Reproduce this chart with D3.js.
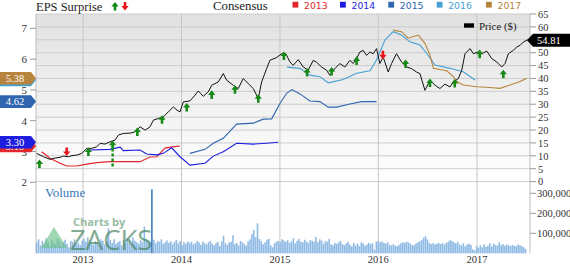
<!DOCTYPE html>
<html>
<head>
<meta charset="utf-8">
<script src="https://d3js.org/d3.v7.min.js"></script>
<style>
  body { margin: 0; background: #fff; }
  svg { display: block; }
</style>
</head>
<body>
<svg id="chart"></svg>
<script>
// price, [decimal year, $]
let priceSeries = [
  [2012.53, 10.95], [2012.60, 9.63], [2012.665, 8.63], [2012.716, 9.13], [2012.766, 9.40],
  [2012.80, 9.90], [2012.851, 9.63], [2012.888, 10.1], [2012.936, 10.29], [2012.987, 10.95],
  [2013.038, 12.88], [2013.088, 12.88], [2013.139, 13.5], [2013.173, 14.82], [2013.223, 14.55],
  [2013.274, 15.43], [2013.325, 16.09], [2013.358, 18.03], [2013.409, 18.68], [2013.477, 18.8],
  [2013.528, 19.3], [2013.561, 20.6], [2013.579, 21.24], [2013.63, 19.96], [2013.68, 21.24],
  [2013.714, 23.83], [2013.765, 24.49], [2013.815, 25.1], [2013.866, 27.04], [2013.917, 28.97],
  [2013.954, 27.7], [2013.985, 27.04], [2014.018, 30.9], [2014.086, 31.3], [2014.137, 33.5],
  [2014.17, 35.16], [2014.221, 33.1], [2014.272, 34.78], [2014.307, 37.37], [2014.374, 38.65],
  [2014.424, 41.9], [2014.459, 39.3], [2014.526, 37.37], [2014.577, 36.09], [2014.627, 39.96],
  [2014.678, 38.03], [2014.729, 36.09], [2014.78, 32.2], [2014.814, 38.65], [2014.865, 43.83],
  [2014.898, 47.04], [2014.966, 48.1], [2015.017, 49.6], [2015.06, 49.55], [2015.102, 46.4],
  [2015.135, 45.1], [2015.186, 47.3], [2015.237, 44.45], [2015.287, 43.2], [2015.338, 47.0],
  [2015.372, 46.3], [2015.423, 44.45], [2015.474, 43.2], [2015.508, 41.2], [2015.558, 43.8],
  [2015.609, 45.8], [2015.66, 44.45], [2015.711, 47.0], [2015.745, 45.8], [2015.779, 47.7],
  [2015.812, 50.25], [2015.846, 50.9], [2015.88, 48.97], [2015.914, 50.25], [2015.947, 49.6],
  [2015.982, 51.57], [2016.015, 45.8], [2016.049, 48.3], [2016.1, 42.5], [2016.134, 45.8],
  [2016.184, 49.6], [2016.235, 46.4], [2016.286, 44.45], [2016.337, 43.8], [2016.387, 42.5],
  [2016.421, 41.9], [2016.472, 35.4], [2016.523, 39.3], [2016.574, 37.37], [2016.624, 36.1],
  [2016.675, 37.8], [2016.726, 36.7], [2016.76, 38.65], [2016.81, 39.96], [2016.845, 43.2],
  [2016.878, 49.6], [2016.929, 51.57], [2016.963, 49.6], [2017.01, 50.25], [2017.048, 49.6],
  [2017.099, 50.6], [2017.15, 47.7], [2017.2, 46.4], [2017.251, 44.45], [2017.284, 45.8],
  [2017.318, 49.6], [2017.369, 50.9], [2017.403, 52.2], [2017.437, 52.84], [2017.47, 54.1],
  [2017.513, 55.0], [2017.528, 54.81]
];

// consensus EPS by fiscal year, [decimal year, EPS]
let cons2013 = [
  [2012.58, 2.99], [2012.665, 2.78], [2012.766, 2.62], [2012.834, 2.53], [2012.936, 2.53],
  [2013.038, 2.59], [2013.139, 2.64], [2013.274, 2.67], [2013.477, 2.67], [2013.579, 2.67],
  [2013.68, 2.82], [2013.751, 2.83], [2013.832, 3.11], [2013.904, 3.15], [2013.985, 3.18]
];
let cons2014 = [
  [2013.071, 3.05], [2013.274, 3.07], [2013.376, 3.14], [2013.409, 3.03], [2013.579, 3.05],
  [2013.647, 2.92], [2013.748, 2.89], [2013.815, 2.94], [2013.9, 3.12], [2013.985, 2.83],
  [2014.086, 2.56], [2014.239, 2.62], [2014.323, 2.85], [2014.424, 2.99], [2014.56, 3.27],
  [2014.73, 3.24], [2014.865, 3.27], [2014.983, 3.30]
];
let cons2015 = [
  [2014.086, 2.94], [2014.239, 3.07], [2014.323, 3.27], [2014.424, 3.43], [2014.56, 3.89],
  [2014.73, 3.92], [2014.83, 4.05], [2014.916, 4.06], [2015.0, 4.56], [2015.068, 4.89],
  [2015.122, 5.01], [2015.203, 4.87], [2015.305, 4.64], [2015.406, 4.62], [2015.49, 4.44],
  [2015.576, 4.44], [2015.711, 4.54], [2015.83, 4.62], [2015.982, 4.62]
];
let cons2016 = [
  [2015.071, 5.74], [2015.203, 5.70], [2015.305, 5.48], [2015.406, 5.43], [2015.49, 5.23],
  [2015.643, 5.34], [2015.779, 5.54], [2015.914, 5.62], [2015.982, 5.97], [2016.066, 6.62],
  [2016.15, 6.89], [2016.235, 6.78], [2016.32, 6.56], [2016.421, 6.46], [2016.489, 6.19],
  [2016.574, 5.81], [2016.726, 5.70], [2016.86, 5.59], [2016.98, 5.32]
];
let cons2017 = [
  [2016.15, 6.94], [2016.235, 6.89], [2016.302, 6.68], [2016.404, 6.78], [2016.472, 6.51],
  [2016.523, 6.13], [2016.557, 5.70], [2016.693, 5.62], [2016.76, 5.43], [2016.794, 5.27],
  [2016.86, 5.16], [2016.996, 5.10], [2017.132, 5.08], [2017.234, 5.05], [2017.335, 5.16],
  [2017.437, 5.27], [2017.505, 5.38]
];

let consYears = ["2013", "2014", "2015", "2016", "2017"];
let consColors = ["#e3262a", "#1d1de0", "#2e65ae", "#45a0d4", "#b6843c"];
let consLast = [3.18, 3.30, 4.62, 5.32, 5.38];

// EPS surprises: [decimal year, price at tip, "up"/"down", dashed tail price or null]
let surprises = [
  [2012.558, 8.6, "up", null], [2012.834, 9.9, "down", null], [2013.054, 13.27, "up", null],
  [2013.30, 15.9, "up", 5.1], [2013.551, 21.0, "up", null], [2013.802, 25.76, "up", null],
  [2014.053, 30.5, "up", null], [2014.307, 35.4, "up", null], [2014.543, 37.4, "up", null],
  [2014.78, 33.9, "up", null], [2015.04, 50.5, "up", null], [2015.276, 44.06, "up", null],
  [2015.525, 44.45, "up", null], [2015.779, 48.6, "up", null], [2016.046, 47.4, "down", null],
  [2016.276, 47.4, "up", null], [2016.523, 40.0, "up", null], [2016.774, 39.8, "up", null],
  [2017.027, 51.2, "up", null], [2017.267, 43.4, "up", null]
];

// weekly volume (thousands), starting mid July 2012
let volumeK = [
  55, 70, 40, 62, 48, 75, 58, 35, 66, 52,
  44, 72, 60, 38, 55, 68, 47, 30, 62, 56,
  70, 45, 52, 40, 64, 72, 58, 80, 65, 50,
  42, 60, 55, 48, 70, 62, 45, 58, 125, 66,
  52, 70, 48, 56, 60, 40, 64, 52, 75, 58,
  46, 80, 62, 55, 48, 66, 58, 133, 72, 60,
  55, 320, 68, 50, 62, 58, 70, 48, 55, 64,
  52, 60, 45, 58, 66, 50, 62, 40, 55, 48,
  60, 52, 58, 45, 50, 62, 55, 42, 58, 50,
  45, 55, 62, 48, 40, 52, 58, 36, 60, 88,
  50, 42, 55, 58, 90, 46, 52, 40, 62, 55,
  48, 38, 60, 70, 95, 117, 80, 150, 72, 60,
  45, 55, 68, 72, 40, 30, 50, 58, 62, 55,
  70, 64, 58, 66, 52, 60, 75, 50, 62, 72,
  58, 55, 68, 60, 52, 66, 62, 58, 82, 55,
  70, 64, 48, 62, 58, 72, 45, 40, 52, 48,
  55, 62, 46, 40, 50, 58, 44, 35, 52, 40,
  48, 36, 55, 50, 38, 45, 52, 46, 50, 18,
  58, 62, 55, 60, 52, 48, 55, 42, 40, 45,
  38, 36, 42, 50, 55, 52, 58, 54, 48, 40,
  42, 50, 55, 60, 66, 78, 85, 70, 52, 46,
  50, 45, 48, 52, 46, 50, 44, 52, 58, 65,
  62, 55, 50, 58, 44, 40, 50, 36, 45, 48,
  42, 20, 15, 35, 28, 40, 30, 45, 32, 38,
  50, 34, 48, 42, 38, 55, 40, 46, 38, 44,
  40, 36, 42, 38, 35, 44, 40, 36, 30, 22
];
let volumeStart = 2012.53;

let priceTicks = d3.range(0, 66, 5);
let epsTicks = [2, 3, 4, 5, 6, 7];
let volumeTicks = [100000, 200000, 300000];
let yearTicks = [2013, 2014, 2015, 2016, 2017];
let lastPrice = 54.81;

// decimal year -> Date
function yr(t) {
  let y = Math.floor(t);
  let a = new Date(y, 0, 1), b = new Date(y + 1, 0, 1);
  return new Date(+a + (t - y) * (b - a));
}

let width = 570, height = 264;
let plotL = 36, plotR = 530, plotT = 14, priceBottom = 181.6, volBottom = 253.3;
let serif = "'Liberation Serif', 'Times New Roman', serif";

let svg = d3.select("#chart").attr("width", width).attr("height", height);

let x = d3.scaleTime().domain([yr(2012.523), yr(2017.538)]).range([plotL, plotR]);
let yPrice = d3.scaleLinear().domain([0, 65]).range([priceBottom, plotT]);
let yEps = d3.scaleLinear().domain([2, 7]).range([182.3, 28.3]);
let yVol = d3.scaleLinear().domain([0, 300000]).range([volBottom, 193.3]);

//background
let grad = svg.append("defs").append("linearGradient")
  .attr("id", "bg").attr("x1", 0).attr("y1", 0).attr("x2", 0).attr("y2", 1);
grad.append("stop").attr("offset", "0%").attr("stop-color", "#e1e1e1");
grad.append("stop").attr("offset", "100%").attr("stop-color", "#ffffff");

svg.append("rect")
  .attr("x", plotL).attr("y", plotT)
  .attr("width", plotR - plotL).attr("height", priceBottom - plotT)
  .attr("fill", "url(#bg)");

//grid
svg.append("g")
  .selectAll("line")
  .data(priceTicks)
  .enter()
  .append("line")
  .attr("x1", plotL).attr("x2", plotR)
  .attr("y1", d => yPrice(d)).attr("y2", d => yPrice(d))
  .attr("stroke", "#cdcdcd").attr("stroke-width", 1);

svg.append("g")
  .selectAll("line")
  .data(yearTicks)
  .enter()
  .append("line")
  .attr("x1", d => x(yr(d))).attr("x2", d => x(yr(d)))
  .attr("y1", plotT).attr("y2", volBottom)
  .attr("stroke", "#c6c6c6").attr("stroke-width", 1);

svg.append("line").attr("x1", plotL).attr("x2", plotL).attr("y1", plotT).attr("y2", volBottom)
  .attr("stroke", "#bdbdbd");
svg.append("line").attr("x1", plotR).attr("x2", plotR).attr("y1", plotT).attr("y2", volBottom)
  .attr("stroke", "#bdbdbd");

//volume
svg.append("g")
  .selectAll("rect")
  .data(volumeK)
  .enter()
  .append("rect")
  .attr("x", (d, i) => x(yr(volumeStart + i * 7 / 365.25)) - 0.8)
  .attr("width", 1.6)
  .attr("y", d => yVol(d * 1000))
  .attr("height", d => volBottom - yVol(d * 1000))
  .attr("fill", d => d > 200 ? "#3f7cb8" : "#8fbae4");

svg.append("text")
  .attr("x", 45).attr("y", 197)
  .attr("font-family", serif).attr("font-size", 13)
  .attr("fill", "#3a78b5")
  .text("Volume");

//watermark
let wm = svg.append("g").attr("opacity", 0.65);
wm.append("path")
  .attr("d", "M54,227 L67,248 L41,248 Z")
  .attr("fill", "#6cc28a");
wm.append("text")
  .attr("x", 73).attr("y", 226)
  .attr("font-family", "'Open Sans', sans-serif").attr("font-weight", "bold").attr("font-size", 11)
  .attr("fill", "#5f9a72")
  .text("Charts by");
wm.append("text")
  .attr("x", 70).attr("y", 250)
  .attr("font-family", "'Open Sans', sans-serif").attr("font-size", 27.5)
  .attr("fill", "#3f7f58")
  .text("ZACKS");

//consensus lines
let epsLine = d3.line().x(d => x(yr(d[0]))).y(d => yEps(d[1]));
let consSeries = [cons2013, cons2014, cons2015, cons2016, cons2017];

svg.append("g")
  .selectAll("path")
  .data(consSeries)
  .enter()
  .append("path")
  .attr("d", d => epsLine(d))
  .attr("fill", "none")
  .attr("stroke", (d, i) => consColors[i])
  .attr("stroke-width", 1.1);

//price line
let priceLine = d3.line().x(d => x(yr(d[0]))).y(d => yPrice(d[1]));
svg.append("path")
  .attr("d", priceLine(priceSeries))
  .attr("fill", "none")
  .attr("stroke", "#111")
  .attr("stroke-width", 1);

//surprise arrows
let upArrow = "M0,0 L3.6,4.6 L1.3,4.6 L1.3,8.6 L-1.3,8.6 L-1.3,4.6 L-3.6,4.6 Z";
let downArrow = "M0,0 L3.6,-4.6 L1.3,-4.6 L1.3,-8.6 L-1.3,-8.6 L-1.3,-4.6 L-3.6,-4.6 Z";

svg.append("g")
  .selectAll("line")
  .data(surprises.filter(d => d[3] !== null))
  .enter()
  .append("line")
  .attr("x1", d => x(yr(d[0]))).attr("x2", d => x(yr(d[0])))
  .attr("y1", d => yPrice(d[1]) + 8).attr("y2", d => yPrice(d[3]))
  .attr("stroke", "#168a16").attr("stroke-width", 2.4)
  .attr("stroke-dasharray", "3,2");

svg.append("g")
  .selectAll("path")
  .data(surprises)
  .enter()
  .append("path")
  .attr("transform", d => "translate(" + x(yr(d[0])) + "," + yPrice(d[1]) + ")")
  .attr("d", d => d[2] == "up" ? upArrow : downArrow)
  .attr("fill", d => d[2] == "up" ? "#168a16" : "#e8151b");

//left axis (EPS)
let leftAxis = svg.append("g");
leftAxis.selectAll("line")
  .data(epsTicks)
  .enter()
  .append("line")
  .attr("x1", plotL - 6).attr("x2", plotL)
  .attr("y1", d => yEps(d)).attr("y2", d => yEps(d))
  .attr("stroke", "#999");
leftAxis.selectAll("text")
  .data(epsTicks)
  .enter()
  .append("text")
  .attr("x", plotL - 9).attr("y", d => yEps(d) + 4)
  .attr("text-anchor", "end")
  .attr("font-family", serif).attr("font-size", 11)
  .attr("fill", "#333")
  .text(d => d);

//consensus value boxes
let boxes = svg.append("g");
consYears.forEach((yrName, i) => {
  let cy = yEps(consLast[i]);
  boxes.append("path")
    .attr("d", "M0," + (cy - 6.3) + " L31," + (cy - 6.3) + " L36," + cy + " L31," + (cy + 6.3) + " L0," + (cy + 6.3) + " Z")
    .attr("fill", consColors[i]);
  boxes.append("text")
    .attr("x", 15).attr("y", cy + 3.6)
    .attr("text-anchor", "middle")
    .attr("font-family", serif).attr("font-size", 10.5)
    .attr("fill", "#fff")
    .text(consLast[i].toFixed(2));
});

//right axis (price + volume)
let rightAxis = svg.append("g");
rightAxis.selectAll("line.p")
  .data(priceTicks)
  .enter()
  .append("line")
  .attr("class", "p")
  .attr("x1", plotR).attr("x2", plotR + 6)
  .attr("y1", d => yPrice(d)).attr("y2", d => yPrice(d))
  .attr("stroke", "#999");
rightAxis.selectAll("text.p")
  .data(priceTicks)
  .enter()
  .append("text")
  .attr("class", "p")
  .attr("x", plotR + 8).attr("y", d => yPrice(d) + 3.8)
  .attr("font-family", serif).attr("font-size", 10.5)
  .attr("fill", "#333")
  .text(d => d);
rightAxis.selectAll("line.v")
  .data(volumeTicks)
  .enter()
  .append("line")
  .attr("class", "v")
  .attr("x1", plotR).attr("x2", plotR + 6)
  .attr("y1", d => yVol(d)).attr("y2", d => yVol(d))
  .attr("stroke", "#999");
rightAxis.selectAll("text.v")
  .data(volumeTicks)
  .enter()
  .append("text")
  .attr("class", "v")
  .attr("x", plotR + 7).attr("y", d => yVol(d) + 3.8)
  .attr("font-family", serif).attr("font-size", 10.5)
  .attr("fill", "#333")
  .text(d => d3.format(",")(d));

//last price tag
let py = yPrice(lastPrice);
svg.append("path")
  .attr("d", "M527," + py + " L533," + (py - 6.5) + " L570," + (py - 6.5) + " L570," + (py + 6.5) + " L533," + (py + 6.5) + " Z")
  .attr("fill", "#000");
svg.append("text")
  .attr("x", 537).attr("y", py + 3.8)
  .attr("font-family", serif).attr("font-size", 10.5)
  .attr("fill", "#fff")
  .text(lastPrice.toFixed(2));

//x axis labels
svg.append("g")
  .selectAll("text")
  .data(yearTicks)
  .enter()
  .append("text")
  .attr("x", d => x(yr(d))).attr("y", 263)
  .attr("text-anchor", "middle")
  .attr("font-family", serif).attr("font-size", 10.5)
  .attr("fill", "#333")
  .text(d => d);

//legend
let legend = svg.append("g");
legend.append("text")
  .attr("x", 36).attr("y", 11)
  .attr("font-family", serif).attr("font-size", 12.5)
  .attr("fill", "#222")
  .text("EPS Surprise");
legend.append("path")
  .attr("transform", "translate(115,2)")
  .attr("d", upArrow)
  .attr("fill", "#168a16");
legend.append("path")
  .attr("transform", "translate(125,10.6)")
  .attr("d", downArrow)
  .attr("fill", "#e8151b");
legend.append("text")
  .attr("x", 213).attr("y", 10)
  .attr("font-family", serif).attr("font-size", 12.8)
  .attr("fill", "#222")
  .text("Consensus");

let legendX = [292.5, 340, 388.3, 436.7, 486];
consYears.forEach((yrName, i) => {
  legend.append("rect")
    .attr("x", legendX[i]).attr("y", 1.8)
    .attr("width", 5.8).attr("height", 5.8)
    .attr("fill", consColors[i]);
  legend.append("text")
    .attr("x", legendX[i] + 11.5).attr("y", 8.8)
    .attr("font-family", "'DejaVu Sans', sans-serif").attr("font-size", 9.3)
    .attr("fill", consColors[i])
    .text(yrName);
});

legend.append("rect")
  .attr("x", 464).attr("y", 23.3)
  .attr("width", 10).attr("height", 4.4)
  .attr("fill", "#000");
legend.append("text")
  .attr("x", 479).attr("y", 29.5)
  .attr("font-family", serif).attr("font-size", 10.8)
  .attr("fill", "#222")
  .text("Price ($)");
</script>
</body>
</html>
